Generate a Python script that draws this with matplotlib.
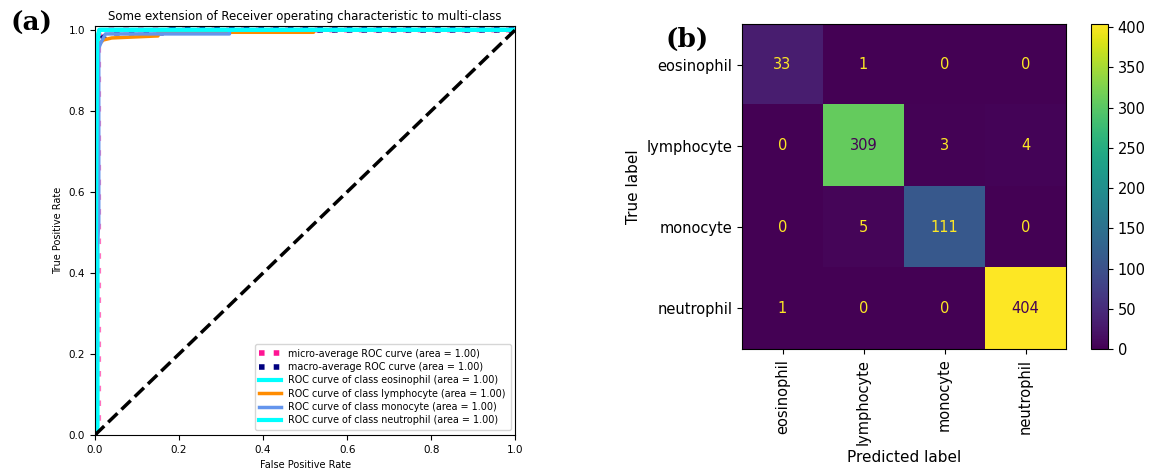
import numpy as np
import matplotlib
matplotlib.use("Agg")
from matplotlib import pyplot as plt

classes = ["eosinophil", "lymphocyte", "monocyte", "neutrophil"]

# ROC points (fpr, tpr) for each curve
micro_fpr = [0.0, 0.008, 0.008, 0.012, 0.02, 1.0]
micro_tpr = [0.0, 0.03, 0.97, 0.99, 1.0, 1.0]
macro_fpr = [0.0, 0.004, 0.01, 0.04, 0.18, 0.18, 1.0]
macro_tpr = [0.0, 0.95, 0.975, 0.993, 0.993, 1.0, 1.0]

eos_fpr = [0.0, 0.006, 0.006, 0.01, 1.0]
eos_tpr = [0.0, 0.02, 0.97, 1.0, 1.0]
lym_fpr = [0.0, 0.0, 0.005, 0.02, 0.04, 0.15, 0.15, 0.52, 0.52, 1.0]
lym_tpr = [0.0, 0.93, 0.96, 0.975, 0.98, 0.985, 0.994, 0.994, 1.0, 1.0]
mono_fpr = [0.0, 0.004, 0.009, 0.009, 0.015, 0.025, 0.32, 0.32, 1.0]
mono_tpr = [0.0, 0.45, 0.52, 0.955, 0.97, 0.99, 0.99, 1.0, 1.0]
neut_fpr = [0.0, 0.005, 0.008, 0.012, 1.0]
neut_tpr = [0.0, 0.97, 0.99, 1.0, 1.0]

# confusion matrix counts (rows = true, cols = predicted)
cm = np.array([
    [33, 1, 0, 0],
    [0, 309, 3, 4],
    [0, 5, 111, 0],
    [1, 0, 0, 404],
])

fig = plt.figure(figsize=(11.58, 4.69), dpi=100)

# ---- (a) ROC curves ----
ax = fig.add_axes([0.082, 0.0725, 0.363, 0.8725])
lw = 2.5
ax.plot(micro_fpr, micro_tpr, color="deeppink", linestyle=":", linewidth=4,
        alpha=0.6, label="micro-average ROC curve (area = 1.00)")
ax.plot(macro_fpr, macro_tpr, color="navy", linestyle=":", linewidth=4,
        label="macro-average ROC curve (area = 1.00)")
ax.plot(eos_fpr, eos_tpr, color="aqua", lw=3,
        label="ROC curve of class eosinophil (area = 1.00)")
ax.plot(lym_fpr, lym_tpr, color="darkorange", lw=lw,
        label="ROC curve of class lymphocyte (area = 1.00)")
ax.plot(mono_fpr, mono_tpr, color="cornflowerblue", lw=lw,
        label="ROC curve of class monocyte (area = 1.00)")
ax.plot(neut_fpr, neut_tpr, color="aqua", lw=3,
        label="ROC curve of class neutrophil (area = 1.00)")
ax.plot([0, 1], [0, 1], "k--", lw=lw)
ax.set_xlim(0.0, 1.0)
ax.set_ylim(0.0, 1.01)
ax.tick_params(labelsize=7.5)
ax.set_xlabel("False Positive Rate", fontsize=7)
ax.set_ylabel("True Positive Rate", fontsize=7)
ax.set_title("Some extension of Receiver operating characteristic to multi-class",
             fontsize=8.5, pad=4)
leg = ax.legend(loc="lower right", fontsize=6.9, handlelength=2.2, borderpad=0.5,
                labelspacing=0.35)
leg.legend_handles[0].set_alpha(1.0)
fig.text(0.009, 0.935, "(a)", fontsize=19, fontweight="bold", family="DejaVu Serif")

# ---- (b) confusion matrix ----
ax2 = fig.add_axes([742 / 1158, 1 - 349 / 469, 324 / 1158, 325 / 469])
im = ax2.imshow(cm, cmap="viridis", vmin=0, vmax=cm.max(), aspect="auto")
thresh = (cm.max() + cm.min()) / 2.0
lo, hi = im.cmap(0.0), im.cmap(1.0)
for i in range(cm.shape[0]):
    for j in range(cm.shape[1]):
        ax2.text(j, i, str(cm[i, j]), ha="center", va="center", fontsize=10.5,
                 color=lo if cm[i, j] > thresh else hi)
ax2.set_xticks(range(len(classes)))
ax2.set_yticks(range(len(classes)))
ax2.set_xticklabels(classes, rotation=90, fontsize=10.5)
ax2.set_yticklabels(classes, fontsize=10.5)
ax2.set_xlabel("Predicted label", fontsize=11)
ax2.set_ylabel("True label", fontsize=11)

cbax = fig.add_axes([1091 / 1158, 1 - 349 / 469, 17 / 1158, 325 / 469])
cb = fig.colorbar(im, cax=cbax, ticks=np.arange(0, 401, 50))
cb.ax.tick_params(labelsize=10.5)
fig.text(0.575, 0.9, "(b)", fontsize=19, fontweight="bold", family="DejaVu Serif")

fig.savefig("out.png", dpi=100)
